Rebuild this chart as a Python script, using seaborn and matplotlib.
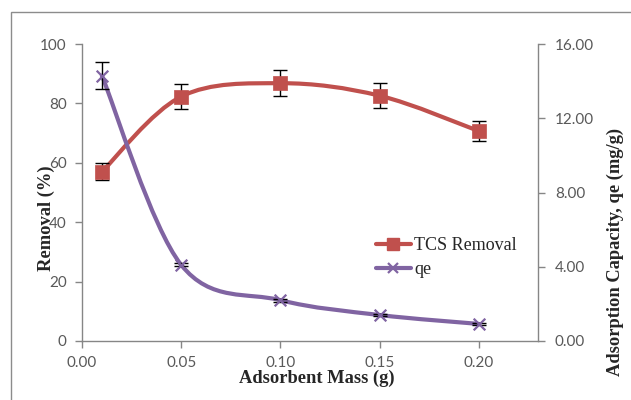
import numpy as np
import matplotlib
matplotlib.use("Agg")
import matplotlib.pyplot as plt
import seaborn as sns
from matplotlib.path import Path
from matplotlib.patches import PathPatch, Rectangle
from matplotlib.lines import Line2D
from matplotlib.ticker import FormatStrFormatter

mass = [0.01, 0.05, 0.10, 0.15, 0.20]
removal = [57.0, 82.3, 86.8, 82.6, 70.7]
removal_err = [2.8, 4.2, 4.4, 4.2, 3.5]
qe = [14.3, 4.1, 2.2, 1.4, 0.92]
qe_err = [0.72, 0.08, 0.08, 0.08, 0.06]

left_ticks = [0, 20, 40, 60, 80, 100]
right_ticks = [0, 4, 8, 12, 16]
x_ticks = [0.00, 0.05, 0.10, 0.15, 0.20]

RED = "#C0504D"
PURPLE = "#8064A2"
GREY = "#868686"
TICKC = "#595959"

sns.set_style("white")
plt.rcParams["font.family"] = ["Lato", "DejaVu Sans"]

fig = plt.figure(figsize=(6.31, 4.0), dpi=100)
ax = fig.add_axes([0.130, 0.1475, 0.723, 0.7425])
ax2 = ax.twinx()


def smooth_path(xs, ys, t=1/6):
    pts = np.column_stack([xs, ys]).astype(float)
    n = len(pts)
    verts = [pts[0]]
    codes = [Path.MOVETO]
    for i in range(n - 1):
        p0 = pts[i - 1] if i > 0 else pts[i]
        p1 = pts[i]
        p2 = pts[i + 1]
        p3 = pts[i + 2] if i + 2 < n else pts[i + 1]
        c1 = p1 + (p2 - p0) * t
        c2 = p2 - (p3 - p1) * t
        verts += [c1, c2, p2]
        codes += [Path.CURVE4] * 3
    return Path(verts, codes)


# smoothed lines
ax.add_patch(PathPatch(smooth_path(mass, removal), fill=False, edgecolor=RED,
                       lw=3.0, zorder=2, capstyle="round", joinstyle="round"))
ax2.add_patch(PathPatch(smooth_path(mass, qe), fill=False, edgecolor=PURPLE,
                        lw=3.0, zorder=2, capstyle="round", joinstyle="round"))

# error bars
ax.errorbar(mass, removal, yerr=removal_err, fmt="none", ecolor="black",
            elinewidth=1.0, capsize=5, capthick=1.0, zorder=3)
ax2.errorbar(mass, qe, yerr=qe_err, fmt="none", ecolor="black",
             elinewidth=1.0, capsize=5, capthick=1.0, zorder=3)

# markers
sns.scatterplot(x=mass, y=removal, ax=ax, marker="s", s=95, color=RED,
                edgecolor=RED, linewidth=0.5, zorder=4, legend=False)
sns.scatterplot(x=mass, y=qe, ax=ax2, marker="x", s=70, color=PURPLE,
                linewidth=1.6, zorder=4, legend=False)

ax.set_xlim(0, 0.23)
ax.set_ylim(0, 100)
ax2.set_ylim(0, 16)
ax.set_xticks(x_ticks)
ax.set_yticks(left_ticks)
ax2.set_yticks(right_ticks)
ax.xaxis.set_major_formatter(FormatStrFormatter("%.2f"))
ax2.yaxis.set_major_formatter(FormatStrFormatter("%.2f"))

for a in (ax, ax2):
    a.grid(False)
    for s in a.spines.values():
        s.set_visible(False)
    a.patch.set_visible(False)
ax.spines["left"].set_visible(True)
ax.spines["bottom"].set_visible(True)
ax2.spines["right"].set_visible(True)
for s in (ax.spines["left"], ax.spines["bottom"], ax2.spines["right"]):
    s.set_color(GREY)
    s.set_linewidth(1.0)

ax.tick_params(axis="y", direction="out", length=5, width=1.0, color=GREY,
               labelcolor=TICKC, labelsize=11, left=True, pad=6)
ax.tick_params(axis="x", direction="out", length=5, width=1.0, color=GREY,
               labelcolor=TICKC, labelsize=11, bottom=True, pad=6)
ax2.tick_params(axis="y", direction="out", length=5, width=1.0, color=GREY,
                labelcolor=TICKC, labelsize=11, right=True, pad=7)

serif = ["Liberation Serif", "DejaVu Serif"]
ax.set_xlabel("Adsorbent Mass (g)", family=serif, fontweight="bold",
              fontsize=13.3)
ax.set_ylabel("Removal (%)", family=serif, fontweight="bold", fontsize=13.3)
ax2.set_ylabel("Adsorption Capacity, qe (mg/g)", family=serif,
               fontweight="bold", fontsize=13.3)
ax.xaxis.set_label_coords(0.514, -0.098)
ax.yaxis.set_label_coords(-0.059, 0.414)
ax2.yaxis.set_label_coords(1.151, 0.30)

handles = [
    Line2D([], [], color=RED, lw=3, marker="s", markersize=8.5),
    Line2D([], [], color=PURPLE, lw=3, marker="x", markersize=7, mew=1.6),
]
fig.legend(handles, ["TCS Removal", "qe"], loc="upper left",
           bbox_to_anchor=(0.582, 0.430), frameon=False,
           prop={"family": serif, "size": 13}, handlelength=1.9,
           handletextpad=0.2, labelspacing=0.4, borderpad=0)

# outer chart border
fig.patches.append(Rectangle((11 / 631, -0.1), 1.2, 1 - 12 / 400 + 0.1,
                             transform=fig.transFigure, fill=False,
                             edgecolor="#8c8c8c", lw=1.0))

fig.savefig("out.png", dpi=100)
